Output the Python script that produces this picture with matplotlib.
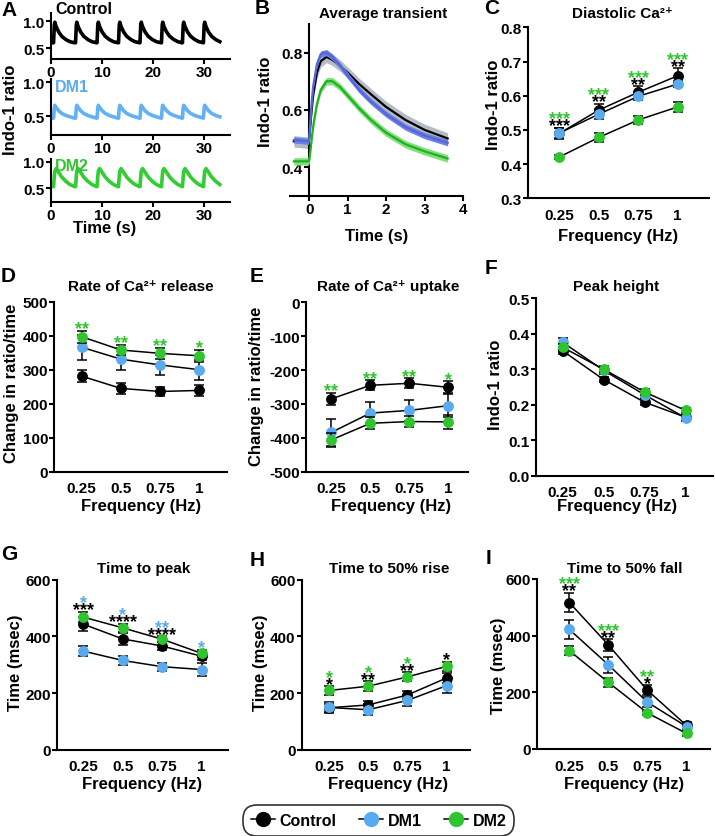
import numpy as np
import matplotlib
matplotlib.use('Agg')
import matplotlib.pyplot as plt
from matplotlib.lines import Line2D
from matplotlib.ticker import FormatStrFormatter

plt.rcParams['font.family'] = ['Liberation Sans', 'DejaVu Sans']
plt.rcParams['font.weight'] = 'bold'
plt.rcParams['axes.labelweight'] = 'bold'
plt.rcParams['axes.unicode_minus'] = False

W, H = 715, 837

BLACK = '#000000'
BLUE = '#5aaaf0'
GREEN = '#2fc52f'
colors = [BLACK, BLUE, GREEN]
groups = ['Control', 'DM1', 'DM2']

# A: raw traces (one transient shape per group, repeated at each stimulus)
stim_times = [0.5, 4.8, 9.0, 13.2, 17.4, 21.6, 25.7, 29.8]
shape_t = [0.0, 0.15, 0.25, 0.5, 1.0, 1.6, 2.4, 3.2, 4.1]
shape_ctrl = [0.60, 0.93, 0.98, 0.90, 0.80, 0.72, 0.66, 0.62, 0.60]
shape_dm1 = [0.47, 0.62, 0.66, 0.63, 0.58, 0.54, 0.51, 0.49, 0.47]
shape_dm2 = [0.53, 0.72, 0.82, 0.87, 0.80, 0.71, 0.63, 0.57, 0.53]
trace_end = 33.0

# B: average transient
avg_t = [-0.4, -0.02, 0.0, 0.05, 0.1, 0.2, 0.3, 0.45, 0.6, 0.8, 1.0, 1.3, 1.6, 2.0, 2.5, 3.0, 3.6]
avg_ctrl = [0.49, 0.485, 0.50, 0.58, 0.65, 0.73, 0.77, 0.785, 0.775, 0.755, 0.73, 0.69, 0.655, 0.61, 0.565, 0.53, 0.50]
avg_dm1 = [0.495, 0.49, 0.50, 0.60, 0.68, 0.76, 0.795, 0.80, 0.785, 0.755, 0.72, 0.67, 0.63, 0.585, 0.54, 0.51, 0.485]
avg_dm2 = [0.42, 0.42, 0.425, 0.48, 0.54, 0.62, 0.67, 0.70, 0.70, 0.68, 0.65, 0.605, 0.565, 0.52, 0.48, 0.455, 0.43]
avg_sem = [0.02, 0.011, 0.013]

freq_labels = ['0.25', '0.5', '0.75', '1']

# C: diastolic Ca
diast_mean = [[0.490, 0.558, 0.610, 0.658], [0.491, 0.546, 0.598, 0.634], [0.421, 0.478, 0.529, 0.567]]
diast_err = [[0.016, 0.018, 0.018, 0.022], [0.015, 0.014, 0.012, 0.010], [0.005, 0.012, 0.012, 0.014]]
diast_stars = [[('***', BLACK), ('***', GREEN)], [('**', BLACK), ('***', GREEN)],
               [('**', BLACK), ('***', GREEN)], [('**', BLACK), ('***', GREEN)]]

# D: rate of release
rel_mean = [[281, 245, 236, 239], [366, 331, 314, 300], [397, 358, 348, 341]]
rel_err = [[18, 16, 14, 15], [36, 32, 30, 30], [18, 16, 17, 18]]
rel_stars = [[('**', GREEN)], [('**', GREEN)], [('**', GREEN)], [('*', GREEN)]]

# E: rate of uptake
upt_mean = [[-285, -245, -239, -251], [-384, -327, -319, -305], [-406, -357, -352, -353]]
upt_err = [[18, 15, 15, 18], [40, 32, 32, 35], [20, 17, 17, 20]]
upt_stars = [[('**', GREEN)], [('**', GREEN)], [('**', GREEN)], [('*', GREEN)]]

# F: peak height
peak_mean = [[0.352, 0.271, 0.207, 0.165], [0.376, 0.297, 0.228, 0.163], [0.362, 0.300, 0.236, 0.184]]
peak_err = [[0.010, 0.008, 0.008, 0.008], [0.012, 0.010, 0.008, 0.008], [0.008, 0.008, 0.008, 0.008]]
peak_stars = [[], [], [], []]

# G: time to peak
ttp_mean = [[443, 391, 366, 330], [348, 315, 293, 283], [468, 430, 390, 340]]
ttp_err = [[25, 20, 15, 15], [17, 15, 14, 22], [18, 15, 10, 12]]
ttp_stars = [[('***', BLACK), ('*', BLUE)], [('****', BLACK), ('*', BLUE)],
             [('****', BLACK), ('**', BLUE)], [('*', BLUE)]]

# H: time to 50% rise
r50_mean = [[148, 158, 193, 253], [149, 141, 174, 226], [209, 224, 257, 294]]
r50_err = [[15, 15, 15, 18], [18, 20, 18, 25], [15, 18, 16, 16]]
r50_stars = [[('*', BLACK), ('*', GREEN)], [('**', BLACK), ('*', GREEN)],
             [('**', BLACK), ('*', GREEN)], [('*', BLACK)]]

# I: time to 50% fall
f50_mean = [[517, 367, 207, 83], [422, 297, 165, 79], [347, 235, 127, 55]]
f50_err = [[35, 20, 18, 12], [35, 28, 18, 12], [15, 15, 8, 10]]
f50_stars = [[('**', BLACK), ('***', GREEN)], [('**', BLACK), ('***', GREEN)],
             [('*', BLACK), ('**', GREEN)], []]


fig = plt.figure(figsize=(W / 100, H / 100), dpi=100)

TICK_FS = 11
LABEL_FS = 12
TITLE_FS = 11


def add_ax(left, top, right, bottom):
    return fig.add_axes([left / W, 1 - bottom / H, (right - left) / W, (bottom - top) / H])


def style(ax):
    for s in ['top', 'right']:
        ax.spines[s].set_visible(False)
    for s in ['left', 'bottom']:
        ax.spines[s].set_linewidth(1.5)
    ax.tick_params(direction='out', length=3.5, width=1.5, labelsize=TICK_FS, pad=1)
    ax.patch.set_alpha(0)


def ftext(x, y, s, **kw):
    kw.setdefault('ha', 'center')
    kw.setdefault('va', 'center')
    kw.setdefault('fontweight', 'bold')
    fig.text(x / W, 1 - y / H, s, **kw)


def freq_panel(box, xlim, ylim, yticks, means, errs, stars, fmt=None):
    ax = add_ax(*box)
    x = np.arange(4)
    for i, (m, e, c) in enumerate(zip(means, errs, colors)):
        z = 3 + i
        ax.errorbar(x, m, yerr=e, fmt='none', ecolor='k', elinewidth=1.1,
                    capsize=3.5, capthick=1.1, zorder=z)
        ax.plot(x, m, '-', color='k', lw=1.1, zorder=z)
        ax.plot(x, m, 'o', color=c, ms=6.8, zorder=z + 0.5)
    # significance stars sit above the highest error bar at each frequency
    tops = np.max(np.array(means) + np.array(errs), axis=0)
    for xi, rows in enumerate(stars):
        for r, (txt, c) in enumerate(rows):
            off = (-2.5 + 7.0 * r) * 0.72
            ax.annotate(txt, (xi, tops[xi]), xytext=(0, off), textcoords='offset points',
                        ha='center', va='baseline', color=c, fontsize=13,
                        fontweight='bold', zorder=10, annotation_clip=False)
    ax.set_xlim(*xlim)
    ax.set_ylim(*ylim)
    ax.set_xticks(x)
    ax.set_xticklabels(freq_labels)
    ax.set_yticks(yticks)
    if fmt:
        ax.yaxis.set_major_formatter(FormatStrFormatter(fmt))
    style(ax)
    ax.tick_params(axis='x', length=0, pad=7)
    return ax


# ---- A ----
trace_shapes = [shape_ctrl, shape_dm1, shape_dm2]
trace_colors = [BLACK, '#62b0f5', '#33cc33']
a_boxes = [(51, 14, 230, 60), (51, 80, 230, 136), (51, 160, 230, 203)]
a_ylims = [(0.3, 1.15), (0.22, 1.05), (0.24, 1.05)]
for shp, c, box, yl in zip(trace_shapes, trace_colors, a_boxes, a_ylims):
    ax = add_ax(*box)
    t = np.concatenate([s + np.array(shape_t) for s in stim_times])
    v = np.tile(shp, len(stim_times))
    keep = t <= trace_end
    t = np.concatenate([[0.1], t[keep]])
    v = np.concatenate([[shp[0]], v[keep]])
    ax.plot(t, v, color=c, lw=2.6, solid_joinstyle='round')
    ax.set_xlim(0, 35)
    ax.set_ylim(*yl)
    ax.set_xticks([0, 10, 20, 30])
    ax.set_yticks([0.5, 1.0])
    ax.yaxis.set_major_formatter(FormatStrFormatter('%.1f'))
    style(ax)
ftext(55, 9, 'Control', ha='left', fontsize=11.5)
ftext(55, 88, 'DM1', ha='left', fontsize=11.5, color=BLUE)
ftext(55, 167, 'DM2', ha='left', fontsize=11.5, color=GREEN)
ftext(11, 110, 'Indo-1 ratio', rotation=90, fontsize=LABEL_FS)
ftext(105, 228, 'Time (s)', fontsize=LABEL_FS)

# ---- B ----
axb = add_ax(290, 25, 463, 196.7)
band_cols = ['#b4bcc4', '#6f80e4', '#80e080']
line_cols = [BLACK, '#5566d8', '#20b020']
avg_series = [avg_ctrl, avg_dm1, avg_dm2]
for i in [2, 1, 0]:
    y = np.array(avg_series[i])
    axb.fill_between(avg_t, y - avg_sem[i], y + avg_sem[i], color=band_cols[i], lw=0, zorder=2 + i)
    axb.plot(avg_t, y, color=line_cols[i], lw=1.6, zorder=2.5 + i)
axb.set_xlim(-0.5, 4)
axb.set_ylim(0.3, 0.9)
axb.set_xticks([0, 1, 2, 3, 4])
axb.set_yticks([0.4, 0.6, 0.8])
axb.yaxis.set_major_formatter(FormatStrFormatter('%.1f'))
style(axb)
axb.spines['left'].set_position(('data', 0))
axb.spines['left'].set_bounds(0.3, 0.9)
ftext(383, 14, 'Average transient', fontsize=TITLE_FS)
ftext(265, 102, 'Indo-1 ratio', rotation=90, fontsize=LABEL_FS)
ftext(377, 237, 'Time (s)', fontsize=LABEL_FS)

# ---- C to I ----
freq_panel((528, 28.3, 709, 199.3), (-0.8, 3.8), (0.3, 0.8), np.arange(0.3, 0.81, 0.1),
           diast_mean, diast_err, diast_stars, '%.1f')
freq_panel((54.3, 302.7, 226.7, 472.7), (-0.7, 3.7), (0, 500), range(0, 501, 100),
           rel_mean, rel_err, rel_stars)
freq_panel((306, 303.3, 468, 472.7), (-0.65, 3.5), (-500, 0), range(-500, 1, 100),
           upt_mean, upt_err, upt_stars)
freq_panel((536, 299.3, 713, 476.7), (-0.65, 3.67), (0, 0.5), np.arange(0, 0.51, 0.1),
           peak_mean, peak_err, peak_stars, '%.1f')
freq_panel((57.3, 580.7, 228.3, 750.7), (-0.66, 3.68), (0, 600), [0, 200, 400, 600],
           ttp_mean, ttp_err, ttp_stars)
freq_panel((301.7, 580.7, 470, 750.7), (-0.7, 3.6), (0, 600), [0, 200, 400, 600],
           r50_mean, r50_err, r50_stars)
freq_panel((537.3, 580, 710, 750), (-0.82, 3.6), (0, 600), [0, 200, 400, 600],
           f50_mean, f50_err, f50_stars)

# titles
ftext(622, 14, 'Diastolic Ca²⁺', fontsize=TITLE_FS)
ftext(141, 287, 'Rate of Ca²⁺ release', fontsize=TITLE_FS)
ftext(388, 287, 'Rate of Ca²⁺ uptake', fontsize=TITLE_FS)
ftext(616, 287, 'Peak height', fontsize=TITLE_FS)
ftext(144, 569, 'Time to peak', fontsize=TITLE_FS)
ftext(389, 569, 'Time to 50% rise', fontsize=TITLE_FS)
ftext(625, 569, 'Time to 50% fall', fontsize=TITLE_FS)

# y labels
ftext(493, 105, 'Indo-1 ratio', rotation=90, fontsize=LABEL_FS)
ftext(12, 383, 'Change in ratio/time', rotation=90, fontsize=LABEL_FS)
ftext(257, 386, 'Change in ratio/time', rotation=90, fontsize=LABEL_FS)
ftext(496, 385, 'Indo-1 ratio', rotation=90, fontsize=LABEL_FS)
ftext(16, 663, 'Time (msec)', rotation=90, fontsize=LABEL_FS)
ftext(261, 663, 'Time (msec)', rotation=90, fontsize=LABEL_FS)
ftext(498, 666, 'Time (msec)', rotation=90, fontsize=LABEL_FS)

# x labels
for xc, yc in [(618, 237), (141, 506.7), (391, 506.7), (617, 506.7),
               (142, 785), (388, 785), (624, 785)]:
    ftext(xc, yc, 'Frequency (Hz)', fontsize=LABEL_FS)

# panel letters
for letter, xl, yl in [('A', 1, 10), ('B', 255, 9), ('C', 484, 9), ('D', 1, 276),
                       ('E', 250, 276), ('F', 485, 269), ('G', 1, 555),
                       ('H', 250, 561), ('I', 486, 559)]:
    ftext(xl, yl, letter, ha='left', fontsize=15)

# legend
handles = [Line2D([0], [0], color='k', lw=1.1, marker='o', ms=10, mfc=c, mec=c) for c in colors]
leg = fig.legend(handles, groups, loc='center', bbox_to_anchor=(378.5 / W, 1 - 821.5 / H),
                 ncol=3, frameon=True, fancybox=True, fontsize=11.5, handlelength=1.5,
                 columnspacing=1.4, handletextpad=0.3, borderpad=0.3)
frame = leg.get_frame()
frame.set_edgecolor('k')
frame.set_linewidth(1.2)
frame.set_boxstyle('round,pad=0.2,rounding_size=0.9')
for txt in leg.get_texts():
    txt.set_fontweight('bold')

fig.savefig('out.png', dpi=100)
